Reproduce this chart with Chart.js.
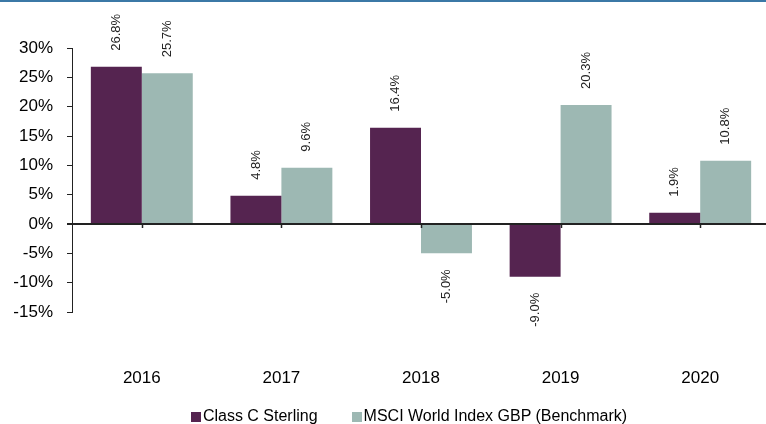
<!DOCTYPE html>
<html>
<head>
<meta charset="utf-8">
<script src="https://cdn.jsdelivr.net/npm/chart.js@4.4.1/dist/chart.umd.min.js"></script>
<style>
html, body { margin: 0; padding: 0; background: #fff; overflow: hidden; }
#wrap { position: relative; width: 766px; height: 424px; overflow: hidden; font-family: 'Liberation Sans', Arial, sans-serif; }
#topline { position: absolute; left: 0; top: 0; width: 766px; height: 2px; background: #3b78a6; z-index: 2; }
#chart { position: absolute; left: 0; top: 0; }
#legend { position: absolute; left: 0; width: 766px; top: 407px; height: 18px; display: flex; justify-content: center; padding-left: 52px; box-sizing: border-box; }
.item { display: flex; align-items: center; font-size: 16px; color: #000; margin-right: 34px; line-height: 18px; white-space: nowrap; }
.item:last-child { margin-right: 0; }
.box { width: 10px; height: 10px; margin-right: 2px; margin-top: 2px; }
</style>
</head>
<body>
<div id="wrap">
  <canvas id="chart" width="770" height="424"></canvas>
  <div id="topline"></div>
  <div id="legend"></div>
</div>
<script>
// data
const years = ['2016', '2017', '2018', '2019', '2020'];
const classC = [26.8, 4.8, 16.4, -9.0, 1.9];
const msci = [25.7, 9.6, -5.0, 20.3, 10.8];
const seriesNames = ['Class C Sterling', 'MSCI World Index GBP (Benchmark)'];
const seriesColors = ['#552450', '#9db8b3'];

const fontFamily = "'Liberation Sans', Arial, sans-serif";

// rotated value labels above / below each bar
const valueLabels = {
    id: 'valueLabels',
    afterDatasetsDraw(chart) {
        const ctx = chart.ctx;
        ctx.save();
        ctx.font = '13px ' + fontFamily;
        ctx.fillStyle = '#222';
        ctx.textBaseline = 'middle';
        chart.data.datasets.forEach((ds, di) => {
            chart.getDatasetMeta(di).data.forEach((bar, i) => {
                const v = ds.data[i];
                const text = v.toFixed(1) + '%';
                ctx.save();
                if (v >= 0) {
                    ctx.translate(bar.x, bar.y - 16);
                    ctx.rotate(-Math.PI / 2);
                    ctx.textAlign = 'left';
                } else {
                    ctx.translate(bar.x, bar.y + 16);
                    ctx.rotate(-Math.PI / 2);
                    ctx.textAlign = 'right';
                }
                ctx.fillText(text, 0, 0);
                ctx.restore();
            });
        });
        ctx.restore();
    }
};

// small category ticks on the zero line
const zeroTicks = {
    id: 'zeroTicks',
    afterDraw(chart) {
        const ctx = chart.ctx;
        const x = chart.scales.x;
        const y0 = chart.scales.y.getPixelForValue(0);
        ctx.save();
        ctx.strokeStyle = '#222';
        ctx.lineWidth = 1.5;
        years.forEach((yr, i) => {
            const px = Math.round(x.getPixelForValue(i)) + 0.5;
            ctx.beginPath();
            ctx.moveTo(px, y0);
            ctx.lineTo(px, y0 + 4);
            ctx.stroke();
        });
        ctx.restore();
    }
};

const ctx = document.getElementById('chart').getContext('2d');
new Chart(ctx, {
    type: 'bar',
    data: {
        labels: years,
        datasets: [
            { label: seriesNames[0], data: classC, backgroundColor: seriesColors[0], borderWidth: 0 },
            { label: seriesNames[1], data: msci, backgroundColor: seriesColors[1], borderWidth: 0 }
        ]
    },
    options: {
        responsive: false,
        animation: false,
        layout: { padding: { top: 48, right: 0, left: 0, bottom: 0 } },
        datasets: { bar: { categoryPercentage: 0.73, barPercentage: 1.0 } },
        scales: {
            x: {
                grid: { display: false },
                border: { display: false },
                ticks: { color: '#000', font: { family: fontFamily, size: 17 }, padding: 48 },
                afterFit: s => { s.height = 112; }
            },
            y: {
                min: -15,
                max: 30,
                ticks: {
                    stepSize: 5,
                    autoSkip: false,
                    color: '#000',
                    font: { family: fontFamily, size: 17 },
                    padding: 14,
                    callback: v => v + '%'
                },
                grid: {
                    color: c => (c.tick && c.tick.value === 0 ? '#222' : 'rgba(0,0,0,0)'),
                    lineWidth: c => (c.tick && c.tick.value === 0 ? 2 : 1),
                    tickColor: '#222',
                    tickLength: 5
                },
                border: { display: true, color: '#222', width: 1 },
                afterFit: s => { s.width = 72; }
            }
        },
        plugins: {
            legend: { display: false },
            tooltip: { enabled: false }
        }
    },
    plugins: [valueLabels, zeroTicks]
});

// legend as text under the chart
const legend = document.getElementById('legend');
seriesNames.forEach((name, i) => {
    const item = document.createElement('div');
    item.className = 'item';
    const box = document.createElement('span');
    box.className = 'box';
    box.style.background = seriesColors[i];
    item.appendChild(box);
    item.appendChild(document.createTextNode(name));
    legend.appendChild(item);
});
</script>
</body>
</html>
